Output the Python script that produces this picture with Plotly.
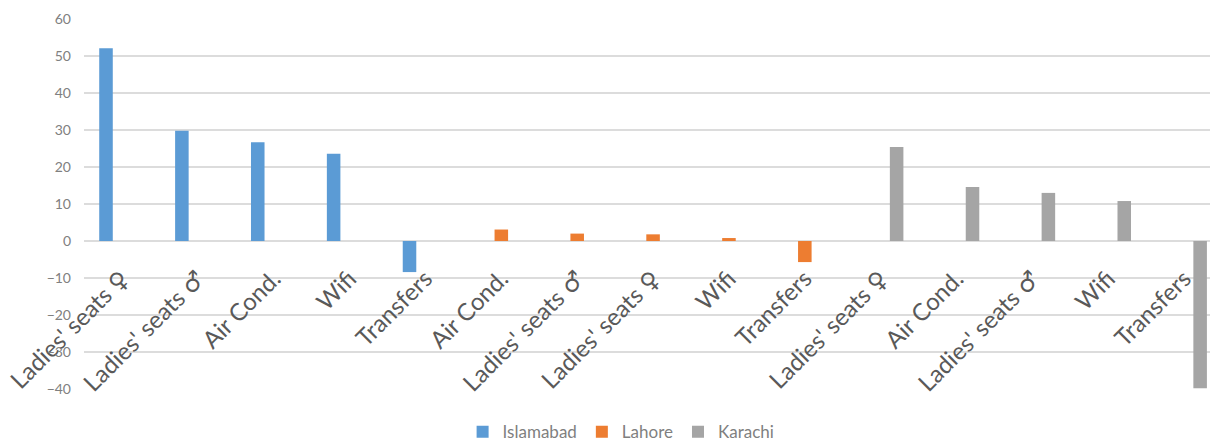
import plotly.graph_objects as go

# one row per category slot, left to right
CATEGORIES = [
    "Ladies' seats ♀", "Ladies' seats ♂", "Air Cond.", "Wifi", "Transfers",
    "Air Cond.", "Ladies' seats ♂", "Ladies' seats ♀", "Wifi", "Transfers",
    "Ladies' seats ♀", "Air Cond.", "Ladies' seats ♂", "Wifi", "Transfers",
]
ISLAMABAD = [52.1, 29.8, 26.7, 23.6, -8.4, None, None, None, None, None,
             None, None, None, None, None]
LAHORE = [None, None, None, None, None, 3.1, 2.0, 1.8, 0.8, -5.7,
          None, None, None, None, None]
KARACHI = [None, None, None, None, None, None, None, None, None, None,
           25.4, 14.6, 13.0, 10.8, -39.8]
Y_TICKS = [-40, -30, -20, -10, 0, 10, 20, 30, 40, 50, 60]

SERIES = [
    ("Islamabad", ISLAMABAD, "#5B9BD5"),
    ("Lahore", LAHORE, "#ED7D31"),
    ("Karachi", KARACHI, "#A5A5A5"),
]

FONT = "Lato, 'Open Sans', sans-serif"


def tick_label(s):
    # Lato has no gender symbols; draw them in DejaVu so they stay full size
    for sym in ("♀", "♂"):
        s = s.replace(sym, f"<span style=\"font-family:'DejaVu Sans'\">{sym}</span>")
    return s


x = list(range(len(CATEGORIES)))

fig = go.Figure()
for name, vals, color in SERIES:
    fig.add_trace(go.Bar(x=x, y=vals, name=name,
                         marker=dict(color=color, line=dict(width=0))))

fig.update_layout(
    width=1210, height=441,
    paper_bgcolor="white", plot_bgcolor="white",
    margin=dict(l=84, r=0, t=19, b=52),
    barmode="group", bargap=0.37, bargroupgap=0.15,
    font=dict(family=FONT, color="#595959"),
    xaxis=dict(
        tickmode="array", tickvals=x, ticktext=[tick_label(c) for c in CATEGORIES],
        tickangle=-45, range=[-0.5, 14.34],
        anchor="free", position=0.4, automargin=False,
        showgrid=False, showline=False, zeroline=False, ticks="",
        ticklabelstandoff=18,
        tickfont=dict(family=FONT, size=24, color="#595959"),
    ),
    yaxis=dict(
        range=[-40, 60], tickvals=Y_TICKS, automargin=False,
        showgrid=True, gridcolor="#dcdcdc", gridwidth=1.5,
        zeroline=True, zerolinecolor="#dcdcdc", zerolinewidth=1.5,
        showline=False, ticks="", ticklabelstandoff=12,
        tickfont=dict(family=FONT, size=14, color="#808080"),
    ),
    legend=dict(
        orientation="h", xref="paper", x=0.477, xanchor="center",
        yref="container", y=0.02, yanchor="middle",
        font=dict(family=FONT, size=17, color="#7f7f7f"),
        itemwidth=30, traceorder="normal",
    ),
)

# drop the browser's default 8px body margin so the figure sits at 0,0
fig.write_html("out.html", config={"displayModeBar": False},
               post_script="document.body.style.margin='0';")
